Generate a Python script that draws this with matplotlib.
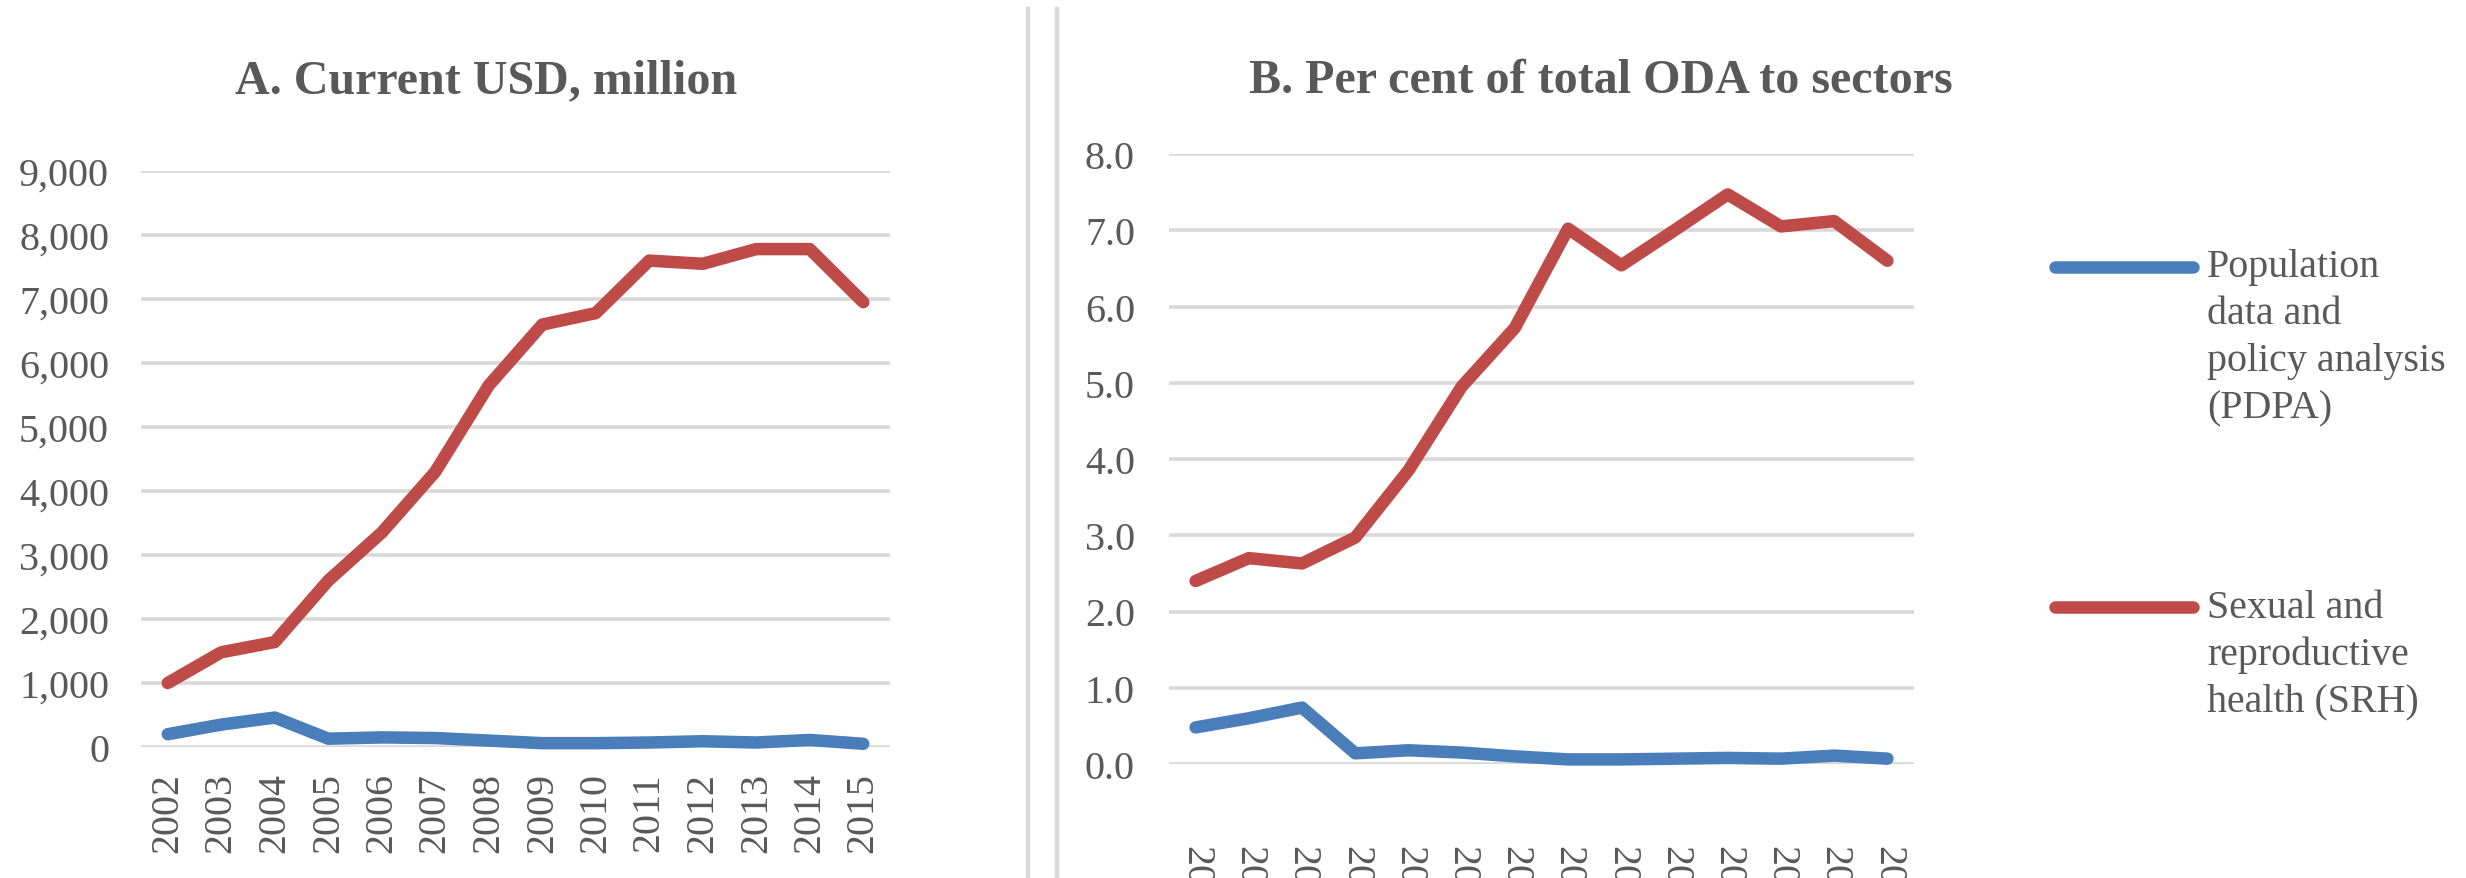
import matplotlib
matplotlib.use("Agg")
import matplotlib.pyplot as plt
from matplotlib.lines import Line2D
from matplotlib.ticker import FuncFormatter, FormatStrFormatter

# ---- data ----
years = [str(y) for y in range(2002, 2016)]
pdpa_usd = [200, 350, 460, 130, 150, 140, 100, 60, 60, 70, 90, 70, 110, 50]
srh_usd = [1000, 1480, 1640, 2600, 3350, 4300, 5650, 6600, 6780, 7600, 7550, 7780, 7780, 6950]
pdpa_pct = [0.48, 0.60, 0.74, 0.14, 0.18, 0.15, 0.10, 0.06, 0.06, 0.07, 0.08, 0.07, 0.11, 0.07]
srh_pct = [2.40, 2.70, 2.63, 2.97, 3.85, 4.95, 5.72, 7.02, 6.54, 7.00, 7.47, 7.05, 7.12, 6.60]
title_a = "A. Current USD, million"
title_b = "B. Per cent of total ODA to sectors"
legend_pdpa = ["Population", "data and", "policy analysis", "(PDPA)"]
legend_srh = ["Sexual and", "reproductive", "health (SRH)"]

# ---- style ----
W, H = 2466, 879
BLUE = "#4A7EBB"
RED = "#BE4B48"
GRID = "#D9D9D9"
TXT = "#595959"
FONT = "Liberation Serif"
FS = 28.8          # ~40 px em
FS_T = 34.6        # ~48 px em
LW = 9.0

plt.rcParams["font.family"] = [FONT, "DejaVu Serif"]

fig = plt.figure(figsize=(W / 100, H / 100), dpi=100)
fig.patch.set_facecolor("white")

def fx(px):
    return px / W

def fy(py):
    return 1 - py / H

ax_a = fig.add_axes([fx(141), fy(748), fx(890) - fx(141), fy(172) - fy(748)])
ax_b = fig.add_axes([fx(1169), fy(765), fx(1914) - fx(1169), fy(155) - fy(765)])

x = list(range(len(years)))

for ax in (ax_a, ax_b):
    for s in ax.spines.values():
        s.set_visible(False)
    ax.set_axisbelow(True)
    ax.yaxis.grid(True, color=GRID, linewidth=2.6)
    ax.xaxis.grid(False)
    ax.tick_params(length=0, colors=TXT, labelsize=FS)
    ax.set_xlim(-0.5, len(years) - 0.5)
    ax.set_xticks(x)
    ax.set_facecolor("none")

# Panel A
ax_a.plot(x, pdpa_usd, color=BLUE, lw=LW, solid_capstyle="round",
          solid_joinstyle="round", clip_on=False, zorder=3)
ax_a.plot(x, srh_usd, color=RED, lw=LW, solid_capstyle="round",
          solid_joinstyle="round", clip_on=False, zorder=3)
ax_a.set_ylim(0, 9000)
ax_a.set_yticks(range(0, 9001, 1000))
ax_a.yaxis.set_major_formatter(FuncFormatter(lambda v, p: f"{int(v):,}"))
ax_a.set_xticklabels(years, rotation=90)
ax_a.tick_params(axis="x", pad=18)
ax_a.tick_params(axis="y", pad=23)

# Panel B
ax_b.plot(x, pdpa_pct, color=BLUE, lw=LW, solid_capstyle="round",
          solid_joinstyle="round", clip_on=False, zorder=3)
ax_b.plot(x, srh_pct, color=RED, lw=LW, solid_capstyle="round",
          solid_joinstyle="round", clip_on=False, zorder=3)
ax_b.set_ylim(0, 8)
ax_b.set_yticks(range(0, 9))
ax_b.yaxis.set_major_formatter(FormatStrFormatter("%.1f"))
ax_b.set_xticklabels(years, rotation=270)
ax_b.tick_params(axis="x", pad=58)
ax_b.tick_params(axis="y", pad=24.5)

# Titles
fig.text(fx(486), fy(93), title_a, ha="center", va="baseline",
         fontsize=FS_T, fontweight="bold", color=TXT)
fig.text(fx(1249), fy(93), title_b, ha="left", va="baseline",
         fontsize=FS_T, fontweight="bold", color=TXT)

# Separator lines between the two chart panels
for sx in (1028, 1057):
    fig.add_artist(Line2D([fx(sx), fx(sx)], [fy(10), fy(879)],
                          transform=fig.transFigure, color=GRID, lw=3.2))

# Legend
def legend_entry(color, y0, lines, step=47):
    fig.add_artist(Line2D([fx(2055), fx(2193)], [fy(y0), fy(y0)],
                          transform=fig.transFigure, color=color, lw=LW,
                          solid_capstyle="round"))
    for i, t in enumerate(lines):
        fig.text(fx(2207), fy(y0 + i * step), t, ha="left", va="center",
                 fontsize=FS, color=TXT)

legend_entry(BLUE, 268, legend_pdpa)
legend_entry(RED, 608, legend_srh)

fig.savefig("out.png", dpi=100, facecolor="white")
